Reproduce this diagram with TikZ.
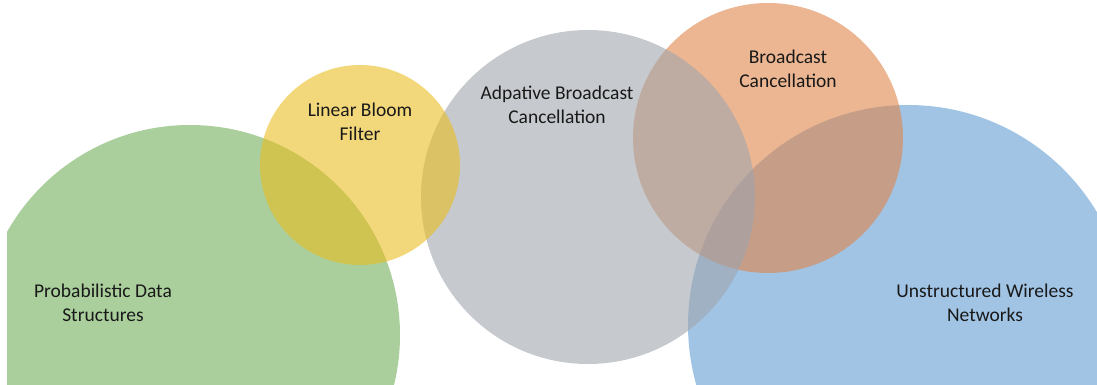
\documentclass[tikz,border=0pt]{standalone}
\usepackage{fontspec}
\setmainfont{Carlito}
\begin{document}
\begin{tikzpicture}[x=1pt,y=1pt,
  bubble/.style={circle, inner sep=0pt, fill opacity=0.6, draw=none},
  caption/.style={align=center, font=\fontsize{19.5}{23.5}\selectfont, text=black!90}]
\definecolor{cgreen}{RGB}{113,175,90}
\definecolor{cyellow}{RGB}{233,190,33}
\definecolor{cgray}{RGB}{160,165,172}
\definecolor{corange}{RGB}{223,133,73}
\definecolor{cblue}{RGB}{98,157,212}
\useasboundingbox (0,0) rectangle (1097,385);
% bubbles, back to front
\begin{scope}
  \clip (7,0) rectangle (1097,385);
  \node[bubble, fill=cgreen, minimum size=420pt] (pds) at (190,50) {};
\end{scope}
\begin{scope}
  \clip (0,0) rectangle (1097,385);
  \node[bubble, fill=cblue, minimum size=440pt] (uwn) at (908,60) {};
\end{scope}
\node[bubble, fill=corange, minimum size=270pt] (bc) at (768,247) {};
\node[bubble, fill=cgray, minimum size=334pt] (abc) at (588,188) {};
\node[bubble, fill=cyellow, minimum size=200pt] (lbf) at (360,220) {};
% labels
\node[caption] (tpds) at (103,82) {Probabilistic Data\\Structures};
\node[caption] (tlbf) at (360,263) {Linear Bloom\\Filter};
\node[caption] (tabc) at (557,280) {Adpative Broadcast\\Cancellation};
\node[caption] (tbc) at (788,316) {Broadcast\\Cancellation};
\node[caption] (tuwn) at (985,82) {Unstructured Wireless\\Networks};
\end{tikzpicture}
\end{document}
